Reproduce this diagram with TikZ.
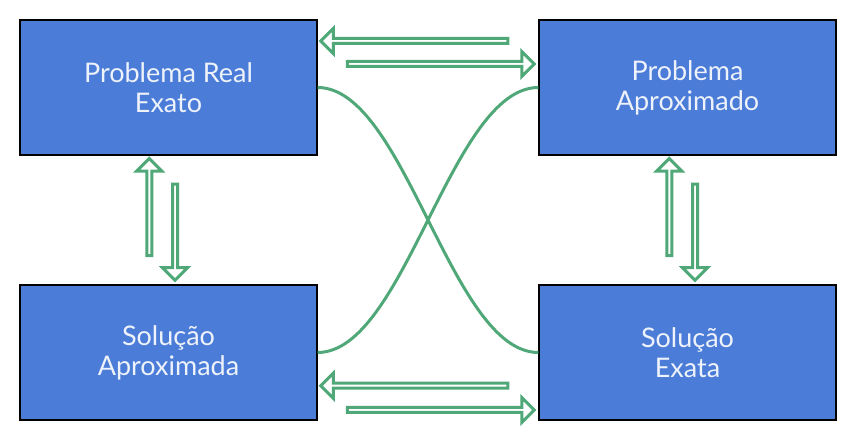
\documentclass[tikz,border=0pt]{standalone}
\usepackage{fontspec}
\setmainfont{Lato}
\usetikzlibrary{shapes.arrows}
\definecolor{boxblue}{RGB}{74,124,216}
\definecolor{linkgreen}{RGB}{80,168,120}
\definecolor{boxtext}{RGB}{238,242,250}
\tikzset{
  stage/.style={rectangle,draw=black,line width=1.2pt,fill=boxblue,text=boxtext,
    minimum width=297pt,minimum height=135pt,align=center,
    font=\fontsize{27}{30}\selectfont},
  hollow/.style={single arrow,draw=linkgreen,line width=3pt,fill=white,inner sep=0pt,
    minimum width=25pt,single arrow head extend=6pt},
  link/.style={draw=linkgreen,line width=3pt}
}
\begin{document}
\begin{tikzpicture}[x=1pt,y=1pt]
  \useasboundingbox (0,0) rectangle (854,438);
  \node[stage] (real) at (168.5,350.5) {Problema Real\\Exato};
  \node[stage] (aprox) at (687.5,350.5) {Problema\\Aproximado};
  \node[stage] (solaprox) at (168.5,85.5) {Solução\\Aproximada};
  \node[stage] (solexata) at (687.5,85.5) {Solução\\Exata};

  \draw[link] (real.east) to[out=0,in=180,looseness=0.65] (solexata.west);
  \draw[link] (aprox.west) to[out=180,in=0,looseness=0.65] (solaprox.east);

  % top and bottom pairs
  \node[hollow,minimum height=187pt,shape border rotate=180] (toreal) at (415.5,397) {};
  \node[hollow,minimum height=187pt] (toaprox) at (439.5,374) {};
  \node[hollow,minimum height=187pt,shape border rotate=180] (tosolaprox) at (415.5,52.3) {};
  \node[hollow,minimum height=187pt] (tosolexata) at (439.5,28) {};

  % left and right pairs
  \node[hollow,minimum height=97pt,shape border rotate=90] (upreal) at (149.3,229.7) {};
  \node[hollow,minimum height=96pt,shape border rotate=270] (downsolaprox) at (175,207) {};
  \node[hollow,minimum height=97pt,shape border rotate=90] (upaprox) at (669.3,229.7) {};
  \node[hollow,minimum height=96pt,shape border rotate=270] (downsolexata) at (695,207) {};
\end{tikzpicture}
\end{document}
